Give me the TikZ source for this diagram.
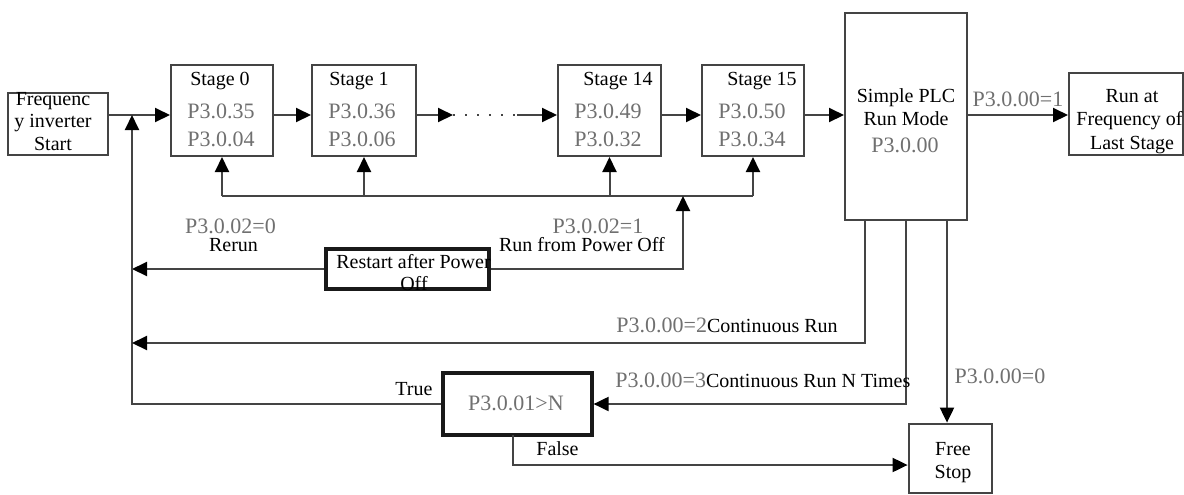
\documentclass[tikz,border=0pt]{standalone}
\usepackage{fontspec}
\setmainfont{Liberation Serif}
\usetikzlibrary{arrows.meta}
\definecolor{pgray}{HTML}{707070}
\definecolor{lgray}{HTML}{444444}
\tikzset{
 box/.style={draw=lgray, line width=1pt, inner sep=0pt, fill=white},
 tbox/.style={draw=black!90, line width=1.6pt, inner sep=0pt, fill=white},
 txt/.style={inner sep=0pt, anchor=base, font=\fontsize{10}{12}\selectfont},
 ptxt/.style={inner sep=0pt, anchor=base, text=pgray, font=\fontsize{11}{13}\selectfont},
 conn/.style={draw=lgray, line width=1pt},
 arr/.style={conn, -{Triangle[length=7.5pt,width=7pt,color=black]}},
 dots/.style={draw=lgray, line width=1.1pt, dash pattern=on 1.1pt off 4.9pt},
}
\begin{document}
\begin{tikzpicture}[x=0.5pt,y=-0.5pt]
\useasboundingbox (0,0) rectangle (1184,494);
\clip (0,0) rectangle (1184,494);

% ---------- boxes ----------
\node[box, minimum width=50pt, minimum height=31pt] (fis) at (58,124) {};
\node[box, minimum width=51pt, minimum height=45.5pt] (s0) at (222,110.5) {};
\node[box, minimum width=52pt, minimum height=45.5pt] (s1) at (364,110.5) {};
\node[box, minimum width=51.5pt, minimum height=45.5pt] (s14) at (609.5,110.5) {};
\node[box, minimum width=51pt, minimum height=45.5pt] (s15) at (753,110.5) {};
\node[box, minimum width=61pt, minimum height=103.5pt] (plc) at (906,116.5) {};
\node[box, minimum width=57pt, minimum height=41pt] (runat) at (1126,114) {};
\node[tbox, minimum width=81.5pt, minimum height=20pt] (restart) at (407.5,269) {};
\node[tbox, minimum width=74.5pt, minimum height=31pt] (cond) at (517.5,404) {};
\node[box, line width=1.4pt, minimum width=41.5pt, minimum height=34.5pt] (free) at (950.5,458.5) {};

% ---------- texts in boxes ----------
\node[txt] (fis1) at (53,105) {Frequenc};
\node[txt] (fis2) at (53,127) {y inverter};
\node[txt] (fis3) at (53,150) {Start};

\node[txt] (s0t) at (220,85) {Stage 0};
\node[ptxt] (s0a) at (221,118) {P3.0.35};
\node[ptxt] (s0b) at (221,146) {P3.0.04};

\node[txt] (s1t) at (359,85) {Stage 1};
\node[ptxt] (s1a) at (362,118) {P3.0.36};
\node[ptxt] (s1b) at (362,146) {P3.0.06};

\node[txt] (s14t) at (618,85) {Stage 14};
\node[ptxt] (s14a) at (608,118) {P3.0.49};
\node[ptxt] (s14b) at (608,146) {P3.0.32};

\node[txt] (s15t) at (762,85) {Stage 15};
\node[ptxt] (s15a) at (752,118) {P3.0.50};
\node[ptxt] (s15b) at (752,146) {P3.0.34};

\node[txt] (plc1) at (906,102) {Simple PLC};
\node[txt] (plc2) at (906,125) {Run Mode};
\node[ptxt] (plc3) at (905,152) {P3.0.00};

\node[txt] (ra1) at (1132,102) {Run at};
\node[txt] (ra2) at (1129.5,125) {Frequency of};
\node[txt] (ra3) at (1132,149) {Last Stage};

\node[txt] (rs1) at (413.5,268) {Restart after Power};
\node[txt] (rs2) at (414,290) {Off};

\node[ptxt] (condt) at (516,410) {P3.0.01>N};

\node[txt] (fr1) at (953,455) {Free};
\node[txt] (fr2) at (953,478) {Stop};

% ---------- helper coordinates ----------
\coordinate (mainY) at (0,115);
\coordinate (bus) at (0,196);
\coordinate (fbx) at (132,0);
\coordinate (j) at (132,115);
\coordinate (d1) at (453,115);
\coordinate (d2) at (517,115);
\coordinate (po) at (683,196);
\coordinate (crY) at (0,343);
\coordinate (fY) at (0,465);
\coordinate (p1) at (865,220);
\coordinate (p2) at (906,220);
\coordinate (p3) at (947,220);
\coordinate (fs) at (513,435);

% ---------- main chain ----------
\draw[arr] (fis.east |- mainY) -- (s0.west |- mainY);
\draw[arr] (s0.east |- mainY) -- (s1.west |- mainY);
\draw[arr] (s1.east |- mainY) -- (d1);
\draw[dots] (d1) -- (d2);
\draw[arr] (d2) -- (s14.west |- mainY);
\draw[arr] (s14.east |- mainY) -- (s15.west |- mainY);
\draw[arr] (s15.east |- mainY) -- (plc.west |- mainY);
\draw[arr] (plc.east |- mainY) -- (runat.west |- mainY)
  node[ptxt, pos=0.5, yshift=4.5pt] (l1) {P3.0.00=1};

% ---------- bus back to stages ----------
\draw[conn] (s0.south |- bus) -- (s15.south |- bus);
\draw[arr] (s0.south |- bus) -- (s0.south);
\draw[arr] (s1.south |- bus) -- (s1.south);
\draw[arr] (s14.south |- bus) -- (s14.south);
\draw[arr] (s15.south |- bus) -- (s15.south);

% ---------- restart after power off ----------
\draw[arr] (restart.east) -| (po);
\draw[arr] (restart.west) -- (fbx |- restart.west);
\node[ptxt] (l02a) at (230.5,233) {P3.0.02=0};
\node[txt] (l02b) at (233.5,251) {Rerun};
\node[ptxt] (l12a) at (598,233) {P3.0.02=1};
\node[txt] (l12b) at (582,251) {Run from Power Off};

% ---------- feedback line ----------
\draw[arr] (cond.west) -- (fbx |- cond.west) -- (j);
\node[txt] (ltrue) at (414,395) {True};

% ---------- PLC bottom outputs ----------
\draw[arr] (p1) |- (fbx |- crY);
\node[inner sep=0pt, anchor=base west, font=\fontsize{10}{12}\selectfont] (l2) at (616,332)
  {{\color{pgray}\fontsize{11}{13}\selectfont P3.0.00=2}Continuous Run};
\draw[arr] (p2) |- (cond.east);
\node[inner sep=0pt, anchor=base west, font=\fontsize{10}{12}\selectfont] (l3) at (615,387)
  {{\color{pgray}\fontsize{11}{13}\selectfont P3.0.00=3}Continuous Run N Times};
\draw[arr] (p3) -- (p3 |- free.north);
\node[ptxt] (l0) at (1000,383) {P3.0.00=0};

% ---------- false ----------
\draw[arr] (fs) -- (fs |- fY) -- (free.west |- fY);
\node[txt] (lfalse) at (557.5,455) {False};
\end{tikzpicture}
\end{document}
